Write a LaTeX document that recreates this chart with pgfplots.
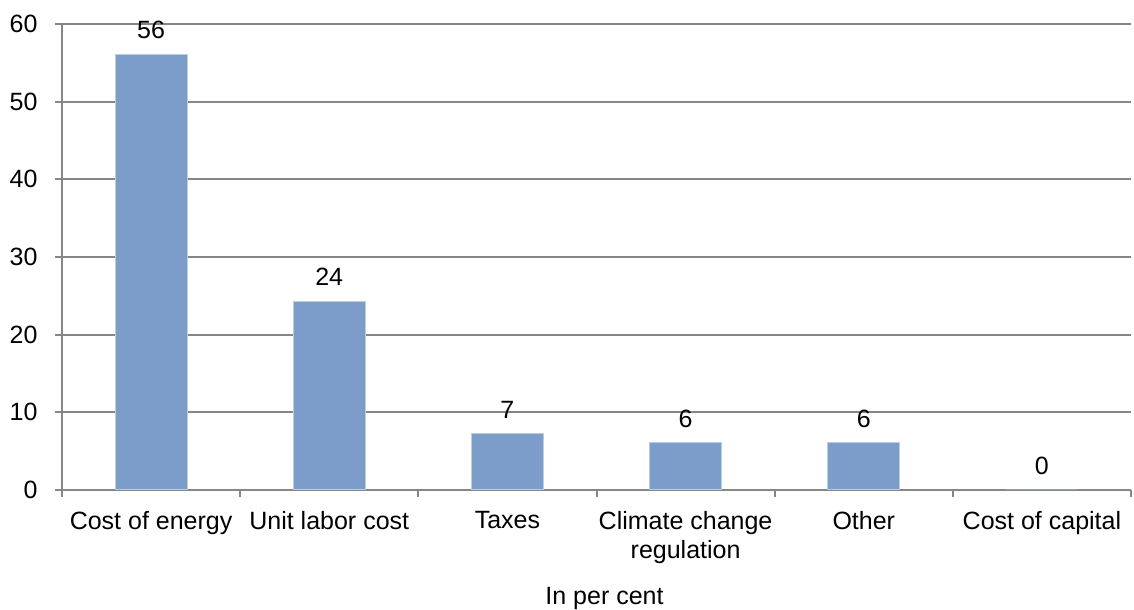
\documentclass[border=0pt]{standalone}
\usepackage{pgfplots}
\pgfplotsset{compat=1.18}
\usepackage{fontspec}
\setmainfont{Liberation Sans}
\definecolor{barblue}{RGB}{124,157,201}
\definecolor{baredge}{RGB}{185,205,229}
\definecolor{gridgray}{RGB}{134,134,134}
\begin{document}
\begin{tikzpicture}
\begin{axis}[
  name=ax,
  scale only axis,
  width=427.6pt, height=186.4pt,
  ymin=0, ymax=60, ytick={0,10,...,60},
  xmin=-0.5, xmax=5.5,
  xtick={0,...,5},
  xticklabels={Cost of energy, Unit labor cost, Taxes, {Climate change\\regulation}, Other, Cost of capital},
  minor xtick={-0.5,0.5,...,5.5},
  axis x line*=bottom, axis y line*=left,
  axis line style={-, draw=gridgray, line width=0.8pt},
  ymajorgrids, grid style={draw=gridgray, line width=0.8pt},
  tick align=outside,
  major tick length=2.8pt, minor tick length=2.8pt,
  major x tick style={draw=none},
  minor x tick style={draw=gridgray, line width=0.8pt},
  ytick style={draw=gridgray, line width=0.8pt},
  /pgf/number format/assume math mode=true,
  ticklabel style={font=\fontsize{10}{11.6}\selectfont, text=black},
  xticklabel style={align=center, anchor=north, inner sep=0pt, yshift=-5.6pt},
  yticklabel style={anchor=east, inner sep=0pt, xshift=-6.8pt},
  ybar, bar width=28.8pt,
  nodes near coords={\pgfmathprintnumber[fixed,precision=0]{\pgfplotspointmeta}},
  nodes near coords style={anchor=south, inner sep=0pt, yshift=6pt, font=\fontsize{10}{12}\selectfont, text=black},
  xlabel={In per cent},
  xlabel style={at={(axis description cs:0.5,0)}, anchor=base, yshift=-46pt, xshift=3.2pt, inner sep=0pt, font=\fontsize{10}{12}\selectfont},
]
\addplot[fill=barblue, draw=baredge, line width=0.4pt] coordinates {(0,56.1) (1,24.3) (2,7.25) (3,6.05) (4,6.05) (5,0)};
\end{axis}
\pgfresetboundingbox
\path[use as bounding box] ([xshift=-24.8pt,yshift=-48pt]ax.south west) rectangle ([xshift=1.2pt,yshift=9.6pt]ax.north east);
\end{tikzpicture}
\end{document}
